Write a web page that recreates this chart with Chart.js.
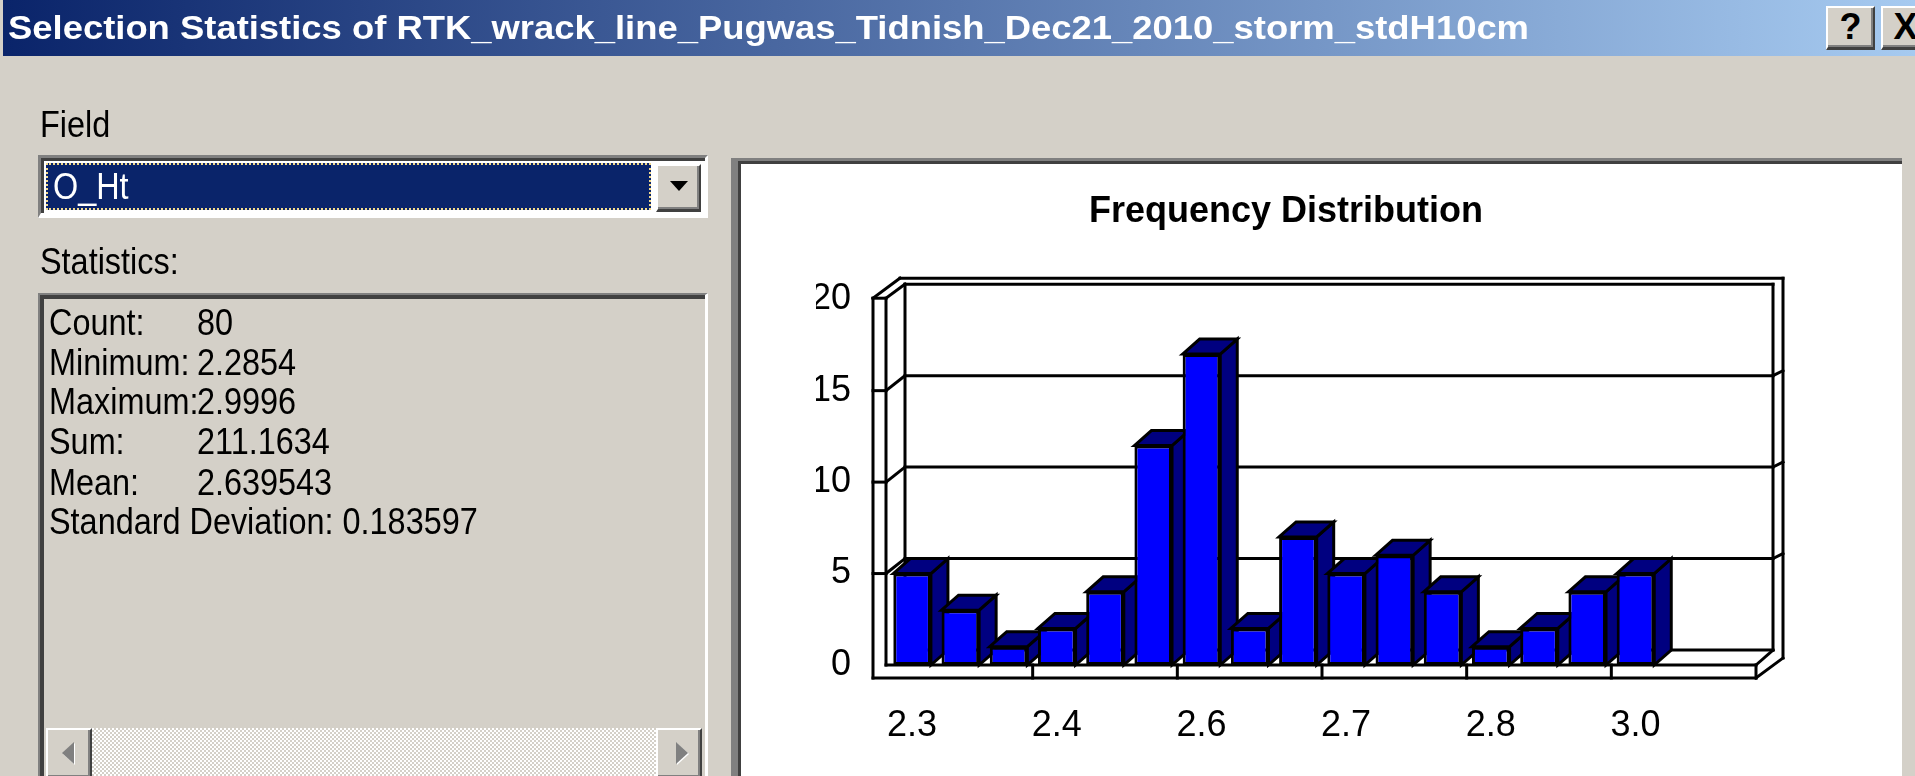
<!DOCTYPE html>
<html>
<head>
<meta charset="utf-8">
<title>Selection Statistics</title>
<script src="https://cdn.jsdelivr.net/npm/chart.js@4/dist/chart.umd.min.js"></script>
<style>
html, body { margin:0; padding:0; }
body { width:1915px; height:776px; overflow:hidden; position:relative; background:#D4D0C8; font-family:"Liberation Sans", Arial, sans-serif; }
.txt { position:absolute; font-size:36px; line-height:36px; color:#000; white-space:nowrap; transform:scaleX(0.9); transform-origin:0 0; }
#caption { position:absolute; left:3px; top:0; width:1912px; height:56px; background:linear-gradient(to right,#0A246A,#A6CAF0); }
#capText { position:absolute; left:5px; top:11px; font-size:33px; line-height:33px; font-weight:bold; color:#fff; white-space:nowrap; transform-origin:0 0; }
.btn { position:absolute; box-sizing:border-box; background:#D4D0C8; border-top:2px solid #fff; border-left:2px solid #fff; border-right:2px solid #404040; border-bottom:3px solid #404040; box-shadow:inset -2px -2px 0 #808080; }
.capbtn { top:6px; width:49px; height:44px; font-weight:bold; font-size:36px; line-height:38px; text-align:center; color:#000; }
#combo { position:absolute; left:38px; top:155px; width:670px; height:63px; box-sizing:border-box; background:#fff; border-top:3px solid #808080; border-left:3px solid #808080; border-bottom:5px solid #fff; border-right:3px solid #fff; box-shadow:inset 3px 3px 0 #404040; }
#sel { position:absolute; left:46px; top:163px; width:605px; height:47px; box-sizing:border-box; background:#0A246A; border:2px dotted #F2D98C; }
#dropBtn { left:656px; top:164px; width:45px; height:48px; }
#dropBtn:after { content:""; position:absolute; left:12px; top:15px; border-left:9px solid transparent; border-right:9px solid transparent; border-top:10px solid #000; }
#statsBox { position:absolute; left:38px; top:293px; width:670px; height:500px; box-sizing:border-box; background:#D4D0C8; border-top:2px solid #808080; border-left:2px solid #808080; border-right:3px solid #fff; box-shadow:inset 4px 4px 0 #404040; }
#track { position:absolute; left:46px; top:728px; width:656px; height:52px; background-image:repeating-conic-gradient(#fff 0 25%, #D4D0C8 0 50%); background-size:4px 4px; }
.sb { top:728px; width:46px; height:52px; }
#sbL { left:46px; }
#sbR { left:656px; }
.arrow { position:absolute; top:12px; width:0; height:0; border-top:11px solid transparent; border-bottom:11px solid transparent; }
#sbL .arrow { left:14px; border-right:12px solid #808080; filter:drop-shadow(1px 1px 0 #fff); }
#sbR .arrow { left:18px; border-left:12px solid #808080; filter:drop-shadow(1px 1px 0 #fff); }
#panel { position:absolute; left:731px; top:158px; width:1171px; height:618px; box-sizing:border-box; background:#fff; border-left:7px solid #808080; border-top:3px solid #808080; box-shadow:inset 3px 3px 0 #404040; }
#chart { position:absolute; left:741px; top:164px; }
</style>
</head>
<body>
<div id="caption"><span id="capText">Selection Statistics of RTK_wrack_line_Pugwas_Tidnish_Dec21_2010_storm_stdH10cm</span></div>
<div class="btn capbtn" style="left:1826px;">?</div>
<div class="btn capbtn" style="left:1881px;">X</div>

<div class="txt" style="left:40px; top:107px;">Field</div>
<div id="combo"></div>
<div id="sel"></div>
<div class="txt" style="left:53px; top:169px; color:#fff;">O_Ht</div>
<div class="btn" id="dropBtn"></div>

<div class="txt" style="left:40px; top:244px;">Statistics:</div>
<div id="statsBox"></div>
<div id="stats"></div>
<div id="track"></div>
<div class="btn sb" id="sbL"><div class="arrow"></div></div>
<div class="btn sb" id="sbR"><div class="arrow"></div></div>

<div id="panel"></div>
<canvas id="chart" width="1161" height="612"></canvas>

<script>
// histogram of O_Ht, 16 bins between 2.2854 and 2.9996
var binLabels = ['2.3','','','2.4','','','2.6','','','2.7','','','2.8','','','3.0'];
var counts = [5, 3, 1, 2, 4, 12, 17, 2, 7, 5, 6, 4, 1, 2, 4, 5];
var emptySlots = 2;     // the axis runs on past the last bin
var yMax = 20;
var yStep = 5;

var statNames = ['Count:', 'Minimum:', 'Maximum:', 'Sum:', 'Mean:', 'Standard Deviation:'];
var statValues = ['80', '2.2854', '2.9996', '211.1634', '2.639543', '0.183597'];

// statistics text
var statTops = [305, 345, 384, 424, 465, 504];
var html = '';
for (var i = 0; i < statNames.length; i++) {
	if (i == statNames.length - 1) {
		html += '<div class="txt" style="left:49px; top:' + statTops[i] + 'px;">' + statNames[i] + ' ' + statValues[i] + '</div>';
	} else {
		html += '<div class="txt" style="left:49px; top:' + statTops[i] + 'px;">' + statNames[i] + '</div>';
		html += '<div class="txt" style="left:197px; top:' + statTops[i] + 'px;">' + statValues[i] + '</div>';
	}
}
document.getElementById('stats').innerHTML = html;

// squeeze caption to the width of the window title
var cap = document.getElementById('capText');
cap.style.transform = 'scaleX(' + (1521 / cap.getBoundingClientRect().width) + ')';

// 3d box
var DX = 17, DY = 15;     // inner back wall
var DX2 = 27, DY2 = 20;   // outer edge of the walls
var WALL = 15, FLOOR = 13;

function line(ctx, x1, y1, x2, y2) {
	ctx.beginPath();
	ctx.moveTo(x1, y1);
	ctx.lineTo(x2, y2);
	ctx.stroke();
}

function poly(ctx, pts) {
	ctx.beginPath();
	ctx.moveTo(pts[0][0], pts[0][1]);
	for (var i = 1; i < pts.length; i++) ctx.lineTo(pts[i][0], pts[i][1]);
	ctx.closePath();
	ctx.fill();
	ctx.stroke();
}

var box3d = {
	id: 'box3d',
	beforeDatasetsDraw: function(chart) {
		var ctx = chart.ctx;
		var a = chart.chartArea;
		var xs = chart.scales.x, ys = chart.scales.y;
		var L = a.left, R = a.right, T = a.top, B = a.bottom;
		ctx.save();
		ctx.strokeStyle = '#000';
		ctx.lineWidth = 3;
		ctx.lineCap = 'square';

		// back wall and grid
		ys.ticks.forEach(function(t) {
			var yy = ys.getPixelForValue(t.value);
			line(ctx, L + DX, yy - DY, R + DX, yy - DY);
			if (t.value > 0 && t.value < yMax) {
				line(ctx, L - WALL, yy, L - 2, yy);
				line(ctx, L - 2, yy, L + DX, yy - DY);
				line(ctx, R + DX, yy - DY, R + DX2, yy - DY2);
			}
		});
		line(ctx, L + DX, T - DY, L + DX, B - DY);
		line(ctx, R + DX, T - DY, R + DX, B - DY);

		// outer frame
		line(ctx, L - WALL + DX2, T - 1 - DY2, R + DX2, T - 1 - DY2);
		line(ctx, R + DX2, T - 1 - DY2, R + DX2, B + FLOOR - DY2);
		line(ctx, L - WALL, T - 1, L - WALL + DX2, T - 1 - DY2);
		line(ctx, L - 2, T - 1, L + DX, T - DY);
		line(ctx, R, B, R + DX, B - DY);
		line(ctx, R, B + FLOOR, R + DX2, B + FLOOR - DY2);

		// left wall front
		line(ctx, L - WALL, T - 1, L - WALL, B + FLOOR);
		line(ctx, L - 2, T - 1, L - 2, B);
		line(ctx, L - WALL, T - 1, L - 2, T - 1);

		// floor front
		line(ctx, L - 2, B, R, B);
		line(ctx, L - WALL, B + FLOOR, R, B + FLOOR);
		line(ctx, R, B, R, B + FLOOR);

		var slot = xs.getPixelForValue(1) - xs.getPixelForValue(0);
		for (var i = 1; i < binLabels.length; i++) {
			if (binLabels[i] != '') {
				var xx = xs.getPixelForValue(i) - slot / 2;
				line(ctx, xx, B, xx, B + FLOOR);
			}
		}

		// sides and tops of the bars
		ctx.fillStyle = '#000080';
		chart.getDatasetMeta(0).data.forEach(function(bar) {
			var p = bar.getProps(['x', 'y', 'base', 'width'], true);
			var x0 = p.x - p.width / 2, x1 = p.x + p.width / 2;
			poly(ctx, [[x1, p.y], [x1 + DX, p.y - DY], [x1 + DX, p.base - DY], [x1, p.base]]);
			poly(ctx, [[x0, p.y], [x0 + DX, p.y - DY], [x1 + DX, p.y - DY], [x1, p.y]]);
		});
		ctx.restore();
	}
};

var tickFont = {family: 'Liberation Sans, Arial, sans-serif', size: 36};

new Chart(document.getElementById('chart'), {
	type: 'bar',
	data: {
		labels: binLabels.concat(new Array(emptySlots).fill('')),
		datasets: [{
			data: counts,
			backgroundColor: '#0000FF',
			borderColor: '#000',
			borderWidth: 3,
			borderSkipped: false,
			barPercentage: 0.78,
			categoryPercentage: 1
		}]
	},
	options: {
		responsive: false,
		animation: false,
		devicePixelRatio: 1,
		layout: {padding: {left: 75, right: 146, top: 0, bottom: 0}},
		plugins: {
			legend: {display: false},
			tooltip: {enabled: false},
			title: {
				display: true,
				text: 'Frequency Distribution',
				color: '#000',
				font: {family: 'Liberation Sans, Arial, sans-serif', size: 36, weight: 'bold'},
				padding: {top: 26, bottom: 66}
			}
		},
		scales: {
			x: {
				grid: {display: false, drawTicks: false},
				border: {display: false},
				ticks: {autoSkip: false, maxRotation: 0, padding: 39, color: '#000', font: tickFont},
				afterFit: function(s) { s.height = 111; }
			},
			y: {
				min: 0,
				max: yMax,
				grid: {display: false, drawTicks: false},
				border: {display: false},
				ticks: {stepSize: yStep, padding: 37, color: '#000', font: tickFont},
				afterFit: function(s) { s.width = 72; }
			}
		}
	},
	plugins: [box3d]
});
</script>
</body>
</html>
